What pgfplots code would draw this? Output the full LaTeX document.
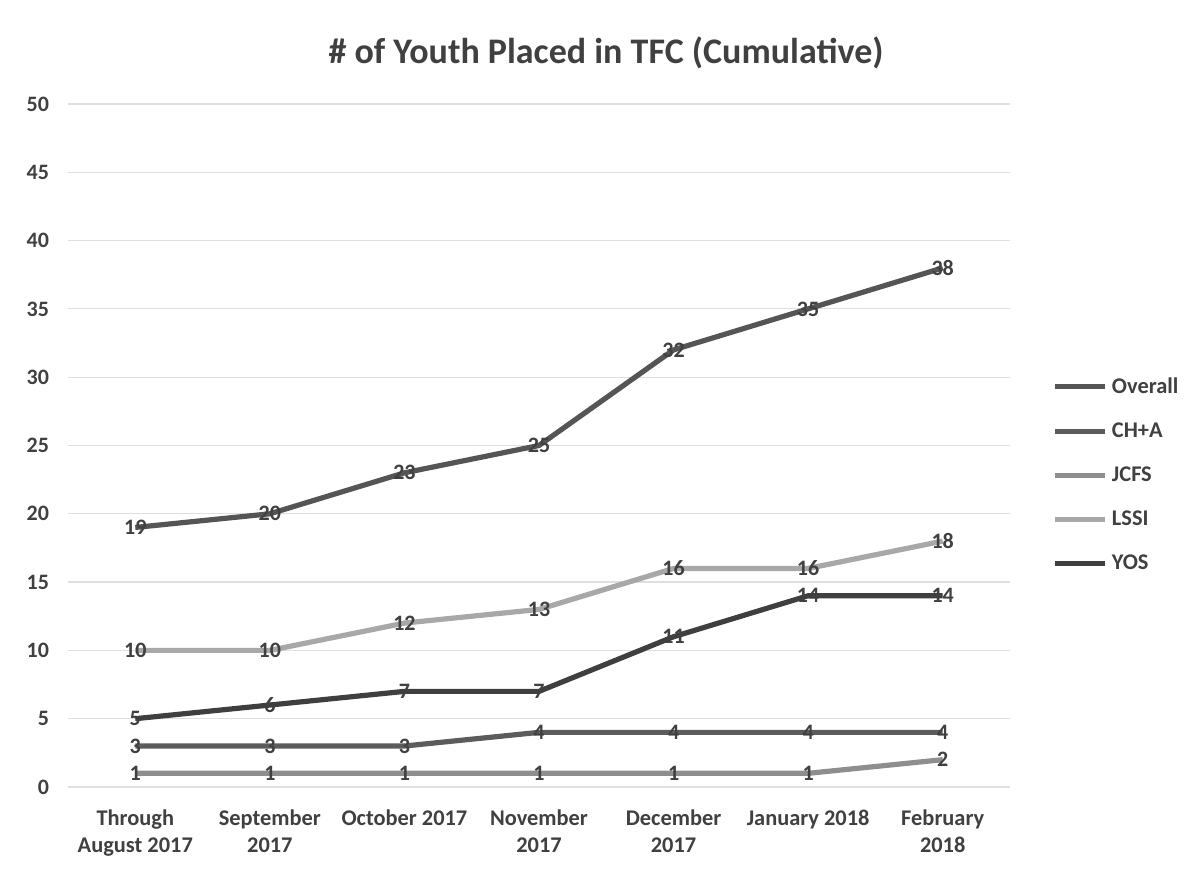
\documentclass[border=0pt]{standalone}
\usepackage{fontspec}
\setmainfont{Carlito}
\usepackage{pgfplots}
\pgfplotsset{compat=1.18}
\definecolor{txt}{HTML}{404040}
\definecolor{cOverall}{HTML}{555555}
\definecolor{cCHA}{HTML}{5C5C5C}
\definecolor{cJCFS}{HTML}{8E8E8E}
\definecolor{cLSSI}{HTML}{A8A8A8}
\definecolor{cYOS}{HTML}{3F3F3F}
\begin{document}
\begin{tikzpicture}
\path[use as bounding box] (0,0) rectangle (594pt,435.5pt);
\node[font=\fontsize{18}{21}\selectfont\bfseries, text=txt] at (303pt,409pt) {\# of Youth Placed in TFC (Cumulative)};
\begin{axis}[
  at={(34pt,42pt)}, anchor=south west,
  scale only axis, width=471pt, height=341.5pt,
  xmin=-0.5, xmax=6.5, ymin=0, ymax=50,
  axis line style={draw=none},
  major tick length=0pt,
  ytick={0,5,...,50},
  ymajorgrids, grid style={gray!25, line width=0.6pt},
  xtick={0,...,6},
  xticklabels={{\strut Through\\August 2017},{\strut September\\2017},{\strut October 2017},{\strut November\\2017},{\strut December\\2017},{\strut January 2018},{\strut February\\2018}},
  xticklabel style={align=center, anchor=north, yshift=-6.5pt, font=\fontsize{11.2}{13.5}\selectfont\bfseries, text=txt},
  yticklabel style={font=\fontsize{11}{12}\selectfont\bfseries, text=txt, xshift=-6pt},
  /pgf/number format/assume math mode=true,
  legend style={at={(1.045,0.457)}, anchor=west, draw=none, fill=none, font=\fontsize{11.2}{12}\selectfont\bfseries, text=txt, row sep=9.2pt, inner sep=0pt},
  legend cell align=left,
  legend image code/.code={\draw[#1, line width=2.6pt] (0pt,0pt) -- (25pt,0pt);},
  nodes near coords,
  every node near coord/.append style={anchor=center, font=\fontsize{11}{12}\selectfont\bfseries, text=txt, inner sep=0pt},
  every axis plot/.append style={line width=2.6pt},
]
\addplot[cOverall] coordinates {(0,19) (1,20) (2,23) (3,25) (4,32) (5,35) (6,38)};
\addlegendentry{Overall}
\addplot[cCHA] coordinates {(0,3) (1,3) (2,3) (3,4) (4,4) (5,4) (6,4)};
\addlegendentry{CH+A}
\addplot[cJCFS] coordinates {(0,1) (1,1) (2,1) (3,1) (4,1) (5,1) (6,2)};
\addlegendentry{JCFS}
\addplot[cLSSI] coordinates {(0,10) (1,10) (2,12) (3,13) (4,16) (5,16) (6,18)};
\addlegendentry{LSSI}
\addplot[cYOS] coordinates {(0,5) (1,6) (2,7) (3,7) (4,11) (5,14) (6,14)};
\addlegendentry{YOS}
\end{axis}
\end{tikzpicture}
\end{document}
